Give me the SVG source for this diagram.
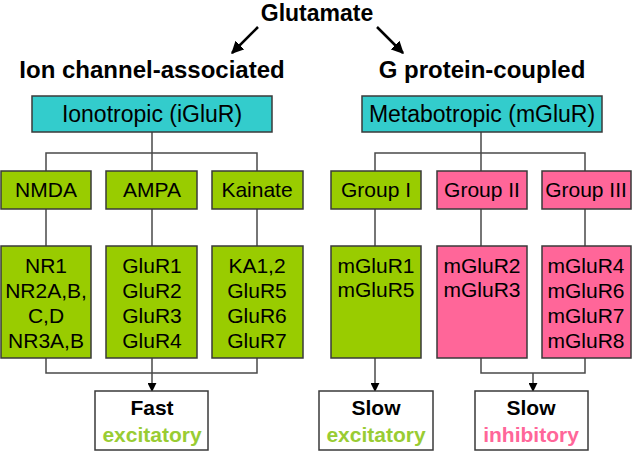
<svg xmlns="http://www.w3.org/2000/svg" width="634" height="451" viewBox="0 0 634 451">
<style>
text{font-family:"Liberation Sans",Arial,sans-serif;text-anchor:middle;fill:#000}
.h{font-weight:bold;font-size:24px}
.t{font-size:23px}
.g{font-size:21px}
.b{font-weight:bold;font-size:21px}
.cy{fill:#33CCCC;stroke:#3a3a3a;stroke-width:1.5}
.gr{fill:#99CC00;stroke:#3a3a3a;stroke-width:1.5}
.pk{fill:#FF6699;stroke:#3a3a3a;stroke-width:1.5}
.wh{fill:#fff;stroke:#3a3a3a;stroke-width:1.5}
.ln{fill:none;stroke:#4a4a4a;stroke-width:1.5}
.ar{fill:none;stroke:#000;stroke-width:2.5}
</style>
<defs>
<marker id="am" viewBox="0 0 10 10" refX="9" refY="5" markerWidth="9" markerHeight="9" markerUnits="userSpaceOnUse" orient="auto"><path d="M0,0 L10,5 L0,10 z" fill="#000"/></marker>
<marker id="bm" viewBox="0 0 10 10" refX="9" refY="5" markerWidth="5" markerHeight="5" orient="auto"><path d="M0,0 L10,5 L0,10 z" fill="#000"/></marker>
</defs>
<g id="connectors">
<line class="ar" x1="258" y1="27" x2="232" y2="53" marker-end="url(#bm)"/>
<line class="ar" x1="377" y1="27" x2="403" y2="53" marker-end="url(#bm)"/>
<path class="ln" d="M152,132 V153 M46,171 V153 H257 V171 M152,153 V171"/>
<path class="ln" d="M46,209 V246 M152,209 V246 M257,209 V246"/>
<path class="ln" d="M46,358 V373 H257 V358 M152,358 V373"/>
<line class="ln" x1="152" y1="373" x2="152" y2="391" marker-end="url(#am)"/>
<path class="ln" d="M481,132 V153 M375,171 V153 H585 V171 M481,153 V171"/>
<path class="ln" d="M375,209 V246 M481,209 V246 M585,209 V246"/>
<line class="ln" x1="375" y1="358" x2="375" y2="391" marker-end="url(#am)"/>
<path class="ln" d="M481,358 V373 H585 V358"/>
<line class="ln" x1="533" y1="373" x2="533" y2="391" marker-end="url(#am)"/>
</g>
<g id="glutamate"><text class="h" x="317" y="21" style="font-size:23px">Glutamate</text></g>
<g id="ion-channel"><text class="h" x="152" y="78">Ion channel-associated</text></g>
<g id="g-protein"><text class="h" x="482" y="78">G protein-coupled</text></g>
<g id="ionotropic"><rect class="cy" x="32" y="96" width="240" height="36"/><text class="t" x="152" y="122">Ionotropic (iGluR)</text></g>
<g id="metabotropic"><rect class="cy" x="362" y="96" width="240" height="36"/><text class="t" x="482" y="122">Metabotropic (mGluR)</text></g>
<g id="nmda"><rect class="gr" x="1" y="171" width="90" height="38"/><text class="g" x="46" y="197">NMDA</text></g>
<g id="ampa"><rect class="gr" x="106" y="171" width="91" height="38"/><text class="g" x="152" y="197">AMPA</text></g>
<g id="kainate"><rect class="gr" x="212" y="171" width="91" height="38"/><text class="g" x="257" y="197">Kainate</text></g>
<g id="group1"><rect class="gr" x="331" y="171" width="90" height="38"/><text class="g" x="376" y="197">Group I</text></g>
<g id="group2"><rect class="pk" x="437" y="171" width="90" height="38"/><text class="g" x="482" y="197">Group II</text></g>
<g id="group3"><rect class="pk" x="542" y="171" width="89" height="38"/><text class="g" x="586" y="197">Group III</text></g>
<g id="nmda-sub"><rect class="gr" x="1" y="246" width="90" height="112"/><text class="g" x="46" y="273">NR1</text><text class="g" x="46" y="298">NR2A,B,</text><text class="g" x="46" y="323">C,D</text><text class="g" x="46" y="348">NR3A,B</text></g>
<g id="ampa-sub"><rect class="gr" x="106" y="246" width="91" height="112"/><text class="g" x="152" y="273">GluR1</text><text class="g" x="152" y="298">GluR2</text><text class="g" x="152" y="323">GluR3</text><text class="g" x="152" y="348">GluR4</text></g>
<g id="kainate-sub"><rect class="gr" x="212" y="246" width="91" height="112"/><text class="g" x="257" y="273">KA1,2</text><text class="g" x="257" y="298">GluR5</text><text class="g" x="257" y="323">GluR6</text><text class="g" x="257" y="348">GluR7</text></g>
<g id="group1-sub"><rect class="gr" x="331" y="246" width="90" height="112"/><text class="g" x="376" y="273">mGluR1</text><text class="g" x="376" y="297">mGluR5</text></g>
<g id="group2-sub"><rect class="pk" x="437" y="246" width="90" height="112"/><text class="g" x="482" y="273">mGluR2</text><text class="g" x="482" y="297">mGluR3</text></g>
<g id="group3-sub"><rect class="pk" x="542" y="246" width="89" height="112"/><text class="g" x="586" y="273">mGluR4</text><text class="g" x="586" y="298">mGluR6</text><text class="g" x="586" y="323">mGluR7</text><text class="g" x="586" y="348">mGluR8</text></g>
<g id="fast"><rect class="wh" x="95" y="391" width="113" height="59"/><text class="b" x="152" y="415">Fast</text><text class="b" x="152" y="442" style="fill:#99CC33">excitatory</text></g>
<g id="slow-exc"><rect class="wh" x="319" y="391" width="114" height="59"/><text class="b" x="376" y="415">Slow</text><text class="b" x="376" y="442" style="fill:#99CC33">excitatory</text></g>
<g id="slow-inh"><rect class="wh" x="475" y="391" width="113" height="59"/><text class="b" x="531" y="415">Slow</text><text class="b" x="531" y="442" style="fill:#FF6699">inhibitory</text></g>
</svg>
